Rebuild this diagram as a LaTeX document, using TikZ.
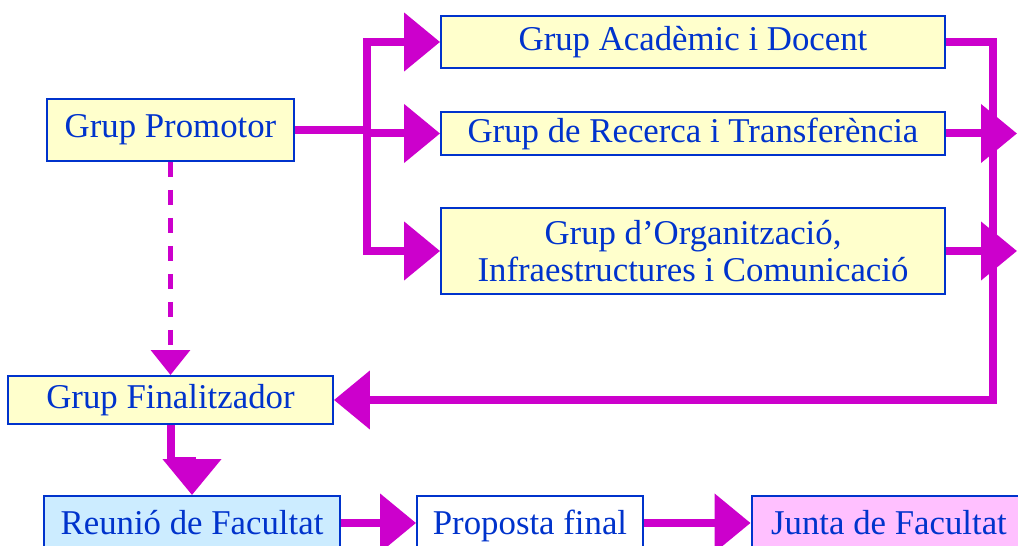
\documentclass[tikz,border=0pt]{standalone}
\usepackage{fontspec}
\setmainfont{Liberation Serif}
\usetikzlibrary{arrows.meta}
\definecolor{flowpink}{HTML}{CC00CC}
\definecolor{boxblue}{HTML}{0033CC}
\definecolor{paleyellow}{HTML}{FFFFCC}
\definecolor{paleblue}{HTML}{CCECFF}
\definecolor{palepink}{HTML}{FFC0FF}
\begin{document}
\begin{tikzpicture}[x=0.02cm, y=-0.02cm,
    box/.style={draw=boxblue, line width=1.1pt, fill=paleyellow, text=boxblue,
      inner sep=0pt, align=center, font=\fontsize{19.8}{21.5}\selectfont},
    laststep/.style={box, minimum height=1.08cm, text height=0.46cm, text depth=0cm},
    flow/.style={draw=flowpink, line width=0.16cm, line join=miter,
      -{Triangle[length=0.72cm, width=1.14cm]}},
    link/.style={draw=flowpink, line width=0.1cm, dash pattern=on 0.3cm off 0.26cm,
      -{Triangle[length=0.5cm, width=0.77cm]}}]
  \useasboundingbox (0,0) rectangle (1018,546);
  % groups
  \node[box, minimum width=4.94cm, minimum height=1.24cm] (promotor) at (170.5,130) {Grup Promotor};
  \node[box, minimum width=10.08cm, minimum height=1.04cm] (academic) at (693,42) {Grup Acadèmic i Docent};
  \node[box, minimum width=10.08cm, minimum height=0.86cm] (recerca) at (693,133.5) {Grup de Recerca i Transferència};
  \node[box, minimum width=10.08cm, minimum height=1.72cm] (organitzacio) at (693,251) {Grup d’Organització,\\Infraestructures i Comunicació};
  \node[box, minimum width=6.5cm, minimum height=0.96cm] (finalitzador) at (170.5,400) {Grup Finalitzador};
  % last steps
  \node[laststep, fill=paleblue, minimum width=5.92cm] (reunio) at (192,523) {Reunió de Facultat};
  \node[laststep, fill=white, minimum width=4.52cm] (proposta) at (530,523) {Proposta final};
  \node[laststep, fill=palepink, minimum width=5.5cm] (junta) at (889,523) {Junta de Facultat};
  \coordinate (lbus) at (367,130);
  \coordinate (rbus) at (993,400);
  \coordinate (recercaend) at (1017,133.5);
  \coordinate (organitzacioend) at (1017,251);
  % arrows
  \draw[flow, -] (promotor.east) -- (lbus);
  \draw[flow] (lbus) |- (academic.west);
  \draw[flow] (lbus) |- (recerca.west);
  \draw[flow] (lbus) |- (organitzacio.west);
  \draw[flow] (academic.east) -| (rbus) -- (finalitzador.east);
  \draw[flow] (recerca.east) -- (recercaend);
  \draw[flow] (organitzacio.east) -- (organitzacioend);
  \draw[link] (promotor.south) -- (finalitzador.north);
  \draw[flow] (finalitzador.south) -- ++(0,36) -| (reunio.north);
  \draw[flow] (reunio.east) -- (proposta.west);
  \draw[flow] (proposta.east) -- (junta.west);
\end{tikzpicture}
\end{document}
